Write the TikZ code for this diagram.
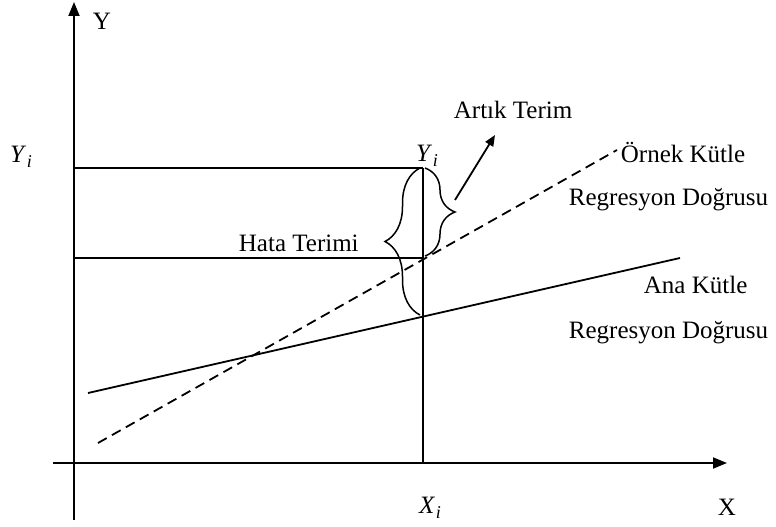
\documentclass[tikz,border=0pt]{standalone}
\usepackage{fontspec}
\setmainfont{Liberation Serif}
\usetikzlibrary{arrows.meta,decorations.pathreplacing}
\newcommand{\vsub}[2]{\textit{#1}\kern0.5pt\raisebox{-5pt}{\fontsize{18}{18}\selectfont\textit{#2}}}
\begin{document}
\begin{tikzpicture}[x=1pt,y=-1pt,line width=1.8pt,
  lbl/.style={font=\fontsize{25}{30}\selectfont,inner sep=0pt,anchor=base west},
  sym/.style={font=\fontsize{25}{30}\selectfont,inner sep=0pt,anchor=center},
  axisline/.style={-{Triangle[length=14pt,width=11pt]}},
  bracestyle/.style={decorate,line width=1.5pt,decoration={brace,amplitude=#1}},
  sampleline/.style={dash pattern=on 10pt off 6pt}]
\useasboundingbox (0,0) rectangle (776,527);
% key points
\coordinate (ybot) at (74,520);
\coordinate (ytop) at (74,2);
\coordinate (xleft) at (53,463);
\coordinate (xright) at (727,463);
\coordinate (yiL) at (74,168);
\coordinate (yhL) at (74,258);
\coordinate (yiP) at (423,168);
\coordinate (yhP) at (423,258);
\coordinate (xiP) at (423,463);
\coordinate (d1) at (98,443);
\coordinate (d2) at (617,150);
\coordinate (s1) at (88,393);
\coordinate (s2) at (680,258);
\coordinate (lb1) at (420,315);
\coordinate (lb2) at (420,168);
\coordinate (rb1) at (425,168);
\coordinate (rb2) at (425,256);
\coordinate (ar1) at (455,200);
\coordinate (ar2) at (495,135);
% axes
\draw[axisline] (ybot) -- (ytop);
\draw[axisline] (xleft) -- (xright);
% guide lines
\draw (yiL) -- (yiP);
\draw (yhL) -- (yhP);
\draw (yiP) -- (xiP);
% regression lines
\draw[sampleline] (d1) -- (d2);
\draw (s1) -- (s2);
% braces
\draw[bracestyle=35pt] (lb1) -- (lb2);
\draw[bracestyle=30pt] (rb1) -- (rb2);
\draw[-{Triangle[length=11pt,width=9pt]}] (ar1) -- (ar2);
% labels
\node[lbl] (ylab) at (92,30) {Y};
\node[lbl] (xlab) at (717,515) {X};
\node[sym] (yileft) at (21,157) {\vsub{Y}{i}};
\node[sym] (yitop) at (427,156) {\vsub{Y}{i}};
\node[sym] (xibot) at (430,508) {\vsub{X}{i}};
\node[lbl] (artik) at (453,118) {Artık Terim};
\node[lbl] (hata) at (238,251) {Hata Terimi};
\node[lbl] (ornek) at (620,162) {Örnek Kütle};
\node[lbl] (reg1) at (568,205) {Regresyon Doğrusu};
\node[lbl] (ana) at (643,293) {Ana Kütle};
\node[lbl] (reg2) at (568,338) {Regresyon Doğrusu};
\end{tikzpicture}
\end{document}
